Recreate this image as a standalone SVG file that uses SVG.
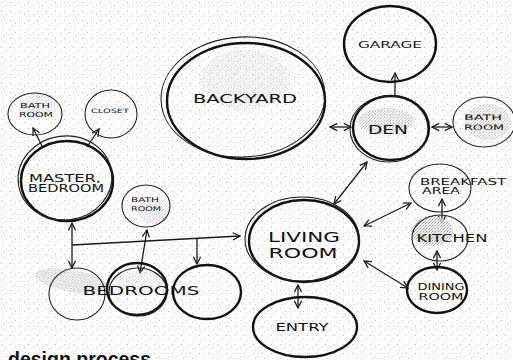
<svg xmlns="http://www.w3.org/2000/svg" width="513" height="360" viewBox="0 0 513 360">
<defs>
<pattern id="spk" width="9" height="9" patternUnits="userSpaceOnUse">
<rect x="1" y="2" width="1" height="1" fill="#bdbdbd"/>
<rect x="6" y="5" width="1" height="1" fill="#cccccc"/>
<rect x="3" y="7" width="1" height="1" fill="#d4d4d4"/>
</pattern>
<pattern id="shade" width="3" height="3" patternUnits="userSpaceOnUse">
<rect width="3" height="3" fill="#efefef"/>
<rect x="0" y="0" width="1" height="1" fill="#8a8a8a"/>
<rect x="2" y="1" width="1" height="1" fill="#a8a8a8"/>
<rect x="1" y="2" width="1" height="1" fill="#c0c0c0"/>
</pattern>
<marker id="ah" viewBox="0 0 10 10" refX="9" refY="5" markerWidth="9" markerHeight="9" orient="auto-start-reverse" markerUnits="userSpaceOnUse">
<path d="M1,1 L9,5 L1,9" fill="none" stroke="#1a1a1a" stroke-width="1.4"/>
</marker>
</defs>
<style>
.b{fill:none;stroke:#111;stroke-width:2.4}
.t{fill:none;stroke:#222;stroke-width:1.1}
.c{stroke:#1a1a1a;stroke-width:1.3;fill:none}
.l{font-family:"DejaVu Sans",sans-serif;fill:#111;text-anchor:middle;font-weight:normal}
</style>
<rect width="513" height="360" fill="#fff"/>
<rect width="513" height="360" fill="url(#spk)"/>

<g id="connectors">
<line class="c" x1="330" y1="127" x2="351" y2="127" marker-start="url(#ah)" marker-end="url(#ah)"/>
<line class="c" x1="432" y1="127" x2="452" y2="127" marker-start="url(#ah)" marker-end="url(#ah)"/>
<line class="c" x1="395" y1="73" x2="395" y2="95" marker-start="url(#ah)"/>
<line class="c" x1="334" y1="204" x2="367" y2="162" marker-start="url(#ah)" marker-end="url(#ah)"/>
<line class="c" x1="364" y1="226" x2="411" y2="203" marker-start="url(#ah)" marker-end="url(#ah)"/>
<line class="c" x1="364" y1="261" x2="408" y2="288" marker-start="url(#ah)" marker-end="url(#ah)"/>
<line class="c" x1="442" y1="199" x2="442" y2="223" marker-start="url(#ah)" marker-end="url(#ah)"/>
<line class="c" x1="437" y1="251" x2="437" y2="270" marker-start="url(#ah)" marker-end="url(#ah)"/>
<line class="c" x1="298" y1="285" x2="298" y2="308" marker-start="url(#ah)" marker-end="url(#ah)"/>
<line class="c" x1="33" y1="128" x2="43" y2="148" marker-start="url(#ah)"/>
<line class="c" x1="99" y1="129" x2="87" y2="147" marker-start="url(#ah)"/>
<line class="c" x1="72" y1="223" x2="72" y2="268" marker-start="url(#ah)" marker-end="url(#ah)"/>
<line class="c" x1="72" y1="245" x2="240" y2="236" marker-end="url(#ah)"/>
<line class="c" x1="147" y1="230" x2="140" y2="273" marker-start="url(#ah)" marker-end="url(#ah)"/>
<line class="c" x1="197" y1="238" x2="197" y2="264" marker-end="url(#ah)"/>
</g>

<g id="backyard">
<ellipse cx="245" cy="80" rx="45" ry="30" fill="url(#shade)" opacity="0.3"/>
<ellipse class="b" cx="246" cy="101" rx="79" ry="58"/>
<ellipse class="t" cx="243" cy="97" rx="82" ry="60" transform="rotate(-3 243 97)"/>
<text class="l" x="245" y="103" font-size="13" textLength="104" lengthAdjust="spacingAndGlyphs">BACKYARD</text>
</g>

<g id="garage">
<ellipse class="b" cx="390" cy="44" rx="46" ry="38"/>
<text class="l" x="390" y="48" font-size="9" textLength="64" lengthAdjust="spacingAndGlyphs">GARAGE</text>
</g>

<g id="den">
<ellipse cx="386" cy="121" rx="28" ry="13" fill="url(#shade)" opacity="0.6"/>
<ellipse class="b" cx="391" cy="128" rx="38" ry="32"/>
<ellipse class="t" cx="389" cy="129" rx="39" ry="33"/>
<text class="l" x="388" y="134" font-size="13" textLength="40" lengthAdjust="spacingAndGlyphs">DEN</text>
</g>

<g id="den-bath">
<ellipse cx="488" cy="122" rx="23" ry="18" fill="url(#shade)" opacity="0.55"/>
<ellipse class="t" cx="484" cy="122" rx="31" ry="25" stroke-width="1.5"/>
<text class="l" x="483" y="120" font-size="7.5" textLength="38" lengthAdjust="spacingAndGlyphs">BATH</text>
<text class="l" x="484" y="130" font-size="7.5" textLength="40" lengthAdjust="spacingAndGlyphs">ROOM</text>
</g>

<g id="living-room">
<ellipse class="b" cx="304" cy="241" rx="55" ry="41" stroke-width="3"/>
<ellipse class="t" cx="302" cy="239" rx="57" ry="42"/>
<text class="l" x="304" y="242" font-size="14" textLength="72" lengthAdjust="spacingAndGlyphs">LIVING</text>
<text class="l" x="303" y="258" font-size="14" textLength="69" lengthAdjust="spacingAndGlyphs">ROOM</text>
</g>

<g id="entry">
<ellipse class="b" cx="305" cy="327" rx="52" ry="30"/>
<text class="l" x="302" y="331" font-size="11" textLength="53" lengthAdjust="spacingAndGlyphs">ENTRY</text>
</g>

<g id="breakfast-area">
<ellipse class="t" cx="440" cy="188" rx="31" ry="24" stroke-width="1.6"/>
<text class="l" x="463" y="185" font-size="8" textLength="86" lengthAdjust="spacingAndGlyphs">BREAKFAST</text>
<text class="l" x="441" y="194" font-size="8" textLength="38" lengthAdjust="spacingAndGlyphs">AREA</text>
</g>

<g id="kitchen">
<ellipse cx="432" cy="231" rx="21" ry="15" fill="url(#shade)" opacity="0.85"/>
<ellipse class="t" cx="440" cy="238" rx="28" ry="23" stroke-width="1.4"/>
<text class="l" x="452" y="242" font-size="10" textLength="71" lengthAdjust="spacingAndGlyphs">KITCHEN</text>
</g>

<g id="dining-room">
<ellipse class="b" cx="437" cy="290" rx="30" ry="23" stroke-width="1.8"/>
<text class="l" x="441" y="290" font-size="8" textLength="47" lengthAdjust="spacingAndGlyphs">DINING</text>
<text class="l" x="441" y="300" font-size="8" textLength="45" lengthAdjust="spacingAndGlyphs">ROOM</text>
</g>

<g id="master-bedroom">
<ellipse class="b" cx="67" cy="181" rx="46" ry="40"/>
<ellipse class="t" cx="65" cy="178" rx="47" ry="42" transform="rotate(-8 65 178)"/>
<text class="l" x="65" y="182" font-size="10" textLength="72" lengthAdjust="spacingAndGlyphs">MASTER,</text>
<text class="l" x="66" y="192" font-size="10" textLength="76" lengthAdjust="spacingAndGlyphs">BEDROOM</text>
</g>

<g id="master-bath">
<ellipse cx="38" cy="106" rx="18" ry="12" fill="url(#shade)" opacity="0.35"/>
<ellipse class="t" cx="35" cy="114" rx="27" ry="21" stroke-width="1.4"/>
<text class="l" x="35" y="108" font-size="7" textLength="30" lengthAdjust="spacingAndGlyphs">BATH</text>
<text class="l" x="36" y="117" font-size="7" textLength="34" lengthAdjust="spacingAndGlyphs">ROOM</text>
</g>

<g id="closet">
<ellipse class="t" cx="111" cy="114" rx="26" ry="24" stroke-width="1.4"/>
<text class="l" x="110" y="113" font-size="6" textLength="38" lengthAdjust="spacingAndGlyphs">CLOSET</text>
</g>

<g id="bath-room">
<ellipse cx="154" cy="211" rx="16" ry="13" fill="url(#shade)" opacity="0.4"/>
<ellipse class="t" cx="146" cy="206" rx="24" ry="21" stroke-width="1.5"/>
<text class="l" x="145" y="202" font-size="6.5" textLength="28" lengthAdjust="spacingAndGlyphs">BATH</text>
<text class="l" x="146" y="211" font-size="6.5" textLength="30" lengthAdjust="spacingAndGlyphs">ROOM</text>
</g>

<g id="bedrooms">
<ellipse cx="72" cy="281" rx="38" ry="11" fill="url(#shade)" opacity="0.6" transform="rotate(10 72 281)"/>
<ellipse cx="140" cy="280" rx="26" ry="9" fill="url(#shade)" opacity="0.3"/>
<ellipse class="t" cx="77" cy="294" rx="28" ry="26" stroke-width="1.3"/>
<ellipse class="b" cx="137" cy="289" rx="30" ry="26" stroke-width="1.8"/>
<ellipse class="t" cx="138" cy="292" rx="29" ry="24"/>
<ellipse class="b" cx="207" cy="292" rx="34" ry="27" stroke-width="1.9"/>
<text class="l" x="141" y="295" font-size="13" textLength="117" lengthAdjust="spacingAndGlyphs">BEDROOMS</text>
</g>

<text x="8" y="366" font-family="Liberation Sans, Arial, sans-serif" font-weight="bold" font-size="19.5" fill="#111">design process</text>
</svg>
